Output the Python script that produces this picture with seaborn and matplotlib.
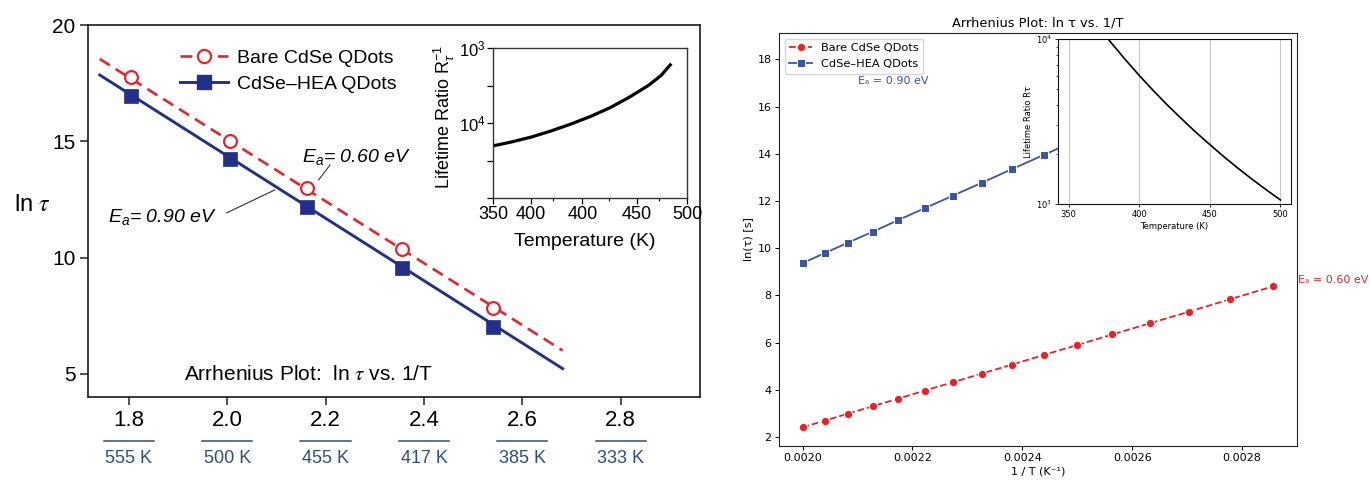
import matplotlib
matplotlib.use("Agg")
import matplotlib.pyplot as plt
import matplotlib.transforms as mtransforms
from matplotlib.lines import Line2D
from matplotlib.ticker import FixedLocator, NullFormatter
import seaborn as sns

# ---------------- left panel: scanned textbook figure ----------------
left_x = [1.804, 2.005, 2.162, 2.355, 2.540]          # 1000/T
bare_left = [17.76, 15.01, 13.00, 10.37, 7.84]         # ln tau, bare dots
hea_left = [16.95, 14.24, 12.18, 9.56, 7.02]           # ln tau, HEA dots
fit_x = [1.741, 2.682]
bare_fit = [18.54, 6.00]
hea_fit = [17.85, 5.22]
left_xticks = [1.8, 2.0, 2.2, 2.4, 2.6, 2.8]
left_xlabels = ["1.8", "2.0", "2.2", "2.4", "2.6", "2.8"]
left_temps = ["555 K", "500 K", "455 K", "417 K", "385 K", "333 K"]
left_yticks = [5, 10, 15, 20]

# inset of the left panel (its axis labels are as printed)
inset_T = [350, 365, 380, 395, 410, 425, 440, 455, 470, 480, 487]
inset_r = [1.39, 1.50, 1.63, 1.79, 1.97, 2.17, 2.40, 2.68, 3.00, 3.27, 3.55]
inset_xticks = [350, 379, 419, 461, 500]
inset_xlabels = ["350", "400", "400", "450", "500"]
inset_xminor = [396, 440, 478]
inset_yticks = [0, 1, 2, 3, 4]
inset_ylabels = ["", "", "$10^4$", "", "$10^3$"]

# ---------------- right panel: matplotlib re-plot ----------------
inv_t = [0.002000, 0.002041, 0.002083, 0.002128, 0.002174, 0.002222,
         0.002273, 0.002326, 0.002381, 0.002439, 0.002500, 0.002564,
         0.002632, 0.002703, 0.002778, 0.002857]
bare_right = [2.42, 2.70, 3.00, 3.31, 3.63, 3.97, 4.32, 4.69,
              5.07, 5.48, 5.90, 6.35, 6.82, 7.31, 7.84, 8.39]
hea_right = [9.37, 9.80, 10.24, 10.70, 11.19, 11.69, 12.22, 12.77,
             13.35, 13.95, 14.59, 15.26, 15.97, 16.71, 17.49, 18.32]
ratio_T = [350, 360, 370, 380, 390, 400, 410, 420,
           430, 440, 450, 460, 470, 480, 490, 500]
ratio_val = [20840, 15820, 12180, 9520, 7520, 6010, 4860, 3970,
             3280, 2725, 2290, 1931, 1645, 1410, 1218, 1057]

RED_L = "#e3262d"
NAVY = "#22308a"
TEMP_C = "#2d4f7f"
RED_R = "#ec2027"
BLUE_R = "#3a54a6"
LSANS = ["Liberation Sans", "DejaVu Sans"]

plt.rcParams["font.family"] = "DejaVu Sans"
plt.rcParams["mathtext.rm"] = "Liberation Sans"
plt.rcParams["mathtext.it"] = "Liberation Sans:italic"
plt.rcParams["mathtext.sf"] = "Liberation Sans"
plt.rcParams["mathtext.bf"] = "Liberation Sans:bold"

fig = plt.figure(figsize=(13.7, 4.82), dpi=100)

# ==========================================
# LEFT: main axes
# ==========================================
ax1 = fig.add_axes([0.0642, 0.1763, 0.4467, 0.7718])
sns.lineplot(x=fit_x, y=bare_fit, ax=ax1, color=RED_L, linewidth=1.9, linestyle="--")
ax1.lines[-1].set_dashes([4.5, 2.6])
sns.lineplot(x=fit_x, y=hea_fit, ax=ax1, color=NAVY, linewidth=2.1)
sns.scatterplot(x=left_x, y=bare_left, ax=ax1, marker="o", s=85, color="white",
                edgecolor=RED_L, linewidth=1.6, zorder=4)
sns.scatterplot(x=left_x, y=hea_left, ax=ax1, marker="s", s=115, color=NAVY,
                edgecolor=NAVY, linewidth=0.5, zorder=4)

ax1.set_xticks(left_xticks)
ax1.set_xticklabels(left_xlabels, fontsize=16, family=LSANS)
ax1.set_yticks(left_yticks)
ax1.set_yticklabels([str(v) for v in left_yticks], fontsize=15, family=LSANS)
ax1.tick_params(axis="both", length=6, width=1.1, color="#222222", pad=3)
for sp in ax1.spines.values():
    sp.set_linewidth(1.2)
    sp.set_color("#1a1a1a")
ax1.set_xlabel("")
ax1.set_ylabel("")

# temperature scale under the tick labels
trans = mtransforms.blended_transform_factory(ax1.transData, ax1.transAxes)
for xt, lab in zip(left_xticks, left_temps):
    ax1.plot([xt - 0.051, xt + 0.051], [-0.118, -0.118], transform=trans,
             clip_on=False, color=TEMP_C, linewidth=1.1)
    ax1.text(xt, -0.166, lab, transform=trans, ha="center", va="center",
             fontsize=13, color=TEMP_C, family=LSANS)
ax1.set_xlim(1.717, 2.961)
ax1.set_ylim(4.0, 20.0)

# legend
handles = [
    Line2D([], [], color=RED_L, lw=1.9, ls="--", dashes=[4.5, 2.6], marker="o",
           ms=9.5, mfc="white", mec=RED_L, mew=1.6),
    Line2D([], [], color=NAVY, lw=2.1, marker="s", ms=10.5, mfc=NAVY, mec=NAVY),
]
ax1.legend(handles, ["Bare CdSe QDots", "CdSe–HEA QDots"], loc="upper left",
           bbox_to_anchor=(0.150, 0.935), frameon=False, borderpad=0, borderaxespad=0,
           handlelength=2.5, handletextpad=0.45, labelspacing=0.42,
           prop={"family": LSANS, "size": 14})

# activation energy notes with leader lines
ax1.text(2.152, 14.11, r"$E_a$= 0.60 eV", fontsize=14, fontstyle="italic",
         family=LSANS, math_fontfamily="custom", va="baseline")
ax1.plot([2.186, 2.209], [13.34, 13.98], color="#333333", linewidth=0.8)
ax1.text(1.757, 11.53, r"$E_a$= 0.90 eV", fontsize=14, fontstyle="italic",
         family=LSANS, math_fontfamily="custom", va="baseline")
ax1.plot([1.999, 2.097], [11.92, 12.91], color="#333333", linewidth=0.8)
ax1.text(1.912, 4.72, r"Arrhenius Plot:  ln $\tau$ vs. 1/T", fontsize=15,
         family=LSANS, math_fontfamily="stix", va="baseline")
fig.text(0.024, 0.575, r"ln $\tau$", fontsize=17, family=LSANS,
         math_fontfamily="stix", ha="center", va="center")

# left inset
axi = fig.add_axes([0.3599, 0.5892, 0.1416, 0.3112])
sns.lineplot(x=inset_T, y=inset_r, ax=axi, color="black", linewidth=2.3)
axi.set_xlim(350, 500)
axi.set_ylim(0, 4)
axi.set_xticks(inset_xticks)
axi.set_xticklabels(inset_xlabels, fontsize=13, family=LSANS)
axi.xaxis.set_minor_locator(FixedLocator(inset_xminor))
axi.set_yticks(inset_yticks)
axi.set_yticklabels(inset_ylabels, fontsize=12, family=LSANS)
for t in axi.get_yticklabels():
    t.set_math_fontfamily("custom")
axi.tick_params(axis="both", which="major", length=4, width=0.9, pad=1.5)
axi.tick_params(axis="x", which="minor", length=2.5, width=0.8)
for sp in axi.spines.values():
    sp.set_linewidth(1.0)
    sp.set_color("#333333")
axi.set_xlabel("")
axi.set_ylabel("")
fig.text(0.427, 0.498, "Temperature (K)", fontsize=14, family=LSANS,
         ha="center", va="center")
fig.text(0.3245, 0.758, r"Lifetime Ratio R$_\tau^{-1}$", fontsize=13, family=LSANS,
         math_fontfamily="custom", rotation=90, ha="center", va="center")

# ==========================================
# RIGHT: main axes
# ==========================================
ax2 = fig.add_axes([0.5686, 0.0747, 0.3781, 0.8568])
sns.lineplot(x=inv_t, y=bare_right, ax=ax2, color=RED_R, marker="o", linestyle="--",
             markersize=6, linewidth=1.3, label="Bare CdSe QDots")
sns.lineplot(x=inv_t, y=hea_right, ax=ax2, color=BLUE_R, marker="s",
             markersize=6, linewidth=1.3, label="CdSe–HEA QDots")
ax2.set_yticks([2, 4, 6, 8, 10, 12, 14, 16, 18])
ax2.set_xticks([0.0020, 0.0022, 0.0024, 0.0026, 0.0028])
ax2.set_xticklabels(["0.0020", "0.0022", "0.0024", "0.0026", "0.0028"])
ax2.tick_params(axis="both", labelsize=8, length=2.8, width=0.7, pad=2.5)
for sp in ax2.spines.values():
    sp.set_linewidth(0.8)
    sp.set_color("#222222")
ax2.set_title("Arrhenius Plot: ln τ vs. 1/T", fontsize=9.4, pad=5)
ax2.set_xlabel("1 / T (K⁻¹)", fontsize=8, labelpad=2.5)
ax2.set_ylabel("ln(τ) [s]", fontsize=8, labelpad=3)
ax2.legend(loc="upper left", fontsize=8.2)
ax2.text(0.002165, 17.1, "Eₐ = 0.90 eV", color=BLUE_R, fontsize=8,
         ha="center", va="center")
ax2.text(0.002902, 8.64, "Eₐ = 0.60 eV", color=RED_R, fontsize=8,
         ha="left", va="center", clip_on=False)

# right inset
ax3 = fig.add_axes([0.7723, 0.5768, 0.1701, 0.3423])
sns.lineplot(x=ratio_T, y=ratio_val, ax=ax3, color="black", linewidth=1.2)
ax3.set_yscale("log")
ax3.set_ylim(1e3, 1e4)
ax3.set_xticks([350, 400, 450, 500])
ax3.yaxis.set_minor_formatter(NullFormatter())
ax3.grid(True, color="#c8c8c8", linewidth=0.8)
ax3.tick_params(axis="both", which="major", labelsize=6, length=2.4, width=0.6, pad=2)
ax3.tick_params(axis="both", which="minor", length=1.4, width=0.5)
for sp in ax3.spines.values():
    sp.set_linewidth(0.8)
    sp.set_color("#111111")
ax3.set_xlabel("Temperature (K)", fontsize=6, labelpad=2)
ax3.set_ylabel("Lifetime Ratio Rτ", fontsize=6, labelpad=2)

fig.savefig("out.png", dpi=100)
